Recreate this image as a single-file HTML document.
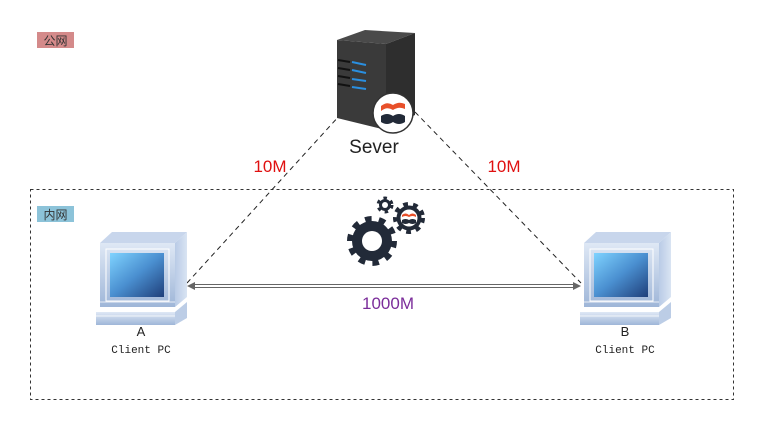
<!DOCTYPE html>
<html><head><meta charset="utf-8"><style>
html,body{margin:0;padding:0;background:#fff;}
svg{display:block;}
text{font-family:"Liberation Sans","Noto Sans CJK SC",sans-serif;}
</style></head><body>
<svg width="762" height="421" viewBox="0 0 762 421" xmlns="http://www.w3.org/2000/svg">
<defs>
  <linearGradient id="scr" x1="0" y1="0" x2="1" y2="1">
    <stop offset="0" stop-color="#7fd3ff"/><stop offset="0.5" stop-color="#4a8fd0"/><stop offset="1" stop-color="#1f3f7a"/>
  </linearGradient>
  <linearGradient id="case" x1="0" y1="0" x2="0" y2="1">
    <stop offset="0" stop-color="#dfe8f5"/><stop offset="1" stop-color="#9fb6d8"/>
  </linearGradient>
  <linearGradient id="side" x1="0" y1="0" x2="1" y2="0">
    <stop offset="0" stop-color="#b9cbe6"/><stop offset="1" stop-color="#d9e4f3"/>
  </linearGradient>
  <g id="pc">
    <polygon points="100,243 112,232 187,232 175,243" fill="#c8d6ec"/>
    <polygon points="175,243 187,232 187,297 175,307" fill="url(#side)"/>
    <rect x="100" y="243" width="75" height="64" fill="url(#case)"/>
    <rect x="106" y="249" width="63" height="52" fill="none" stroke="#fff" stroke-width="1"/>
    <rect x="110" y="253" width="54" height="44" fill="url(#scr)"/>
    <line x1="100" y1="302" x2="175" y2="302" stroke="#fff" stroke-width="0.8"/>
    <polygon points="96,312 175,312 187,302 187,318 175,325 96,325" fill="#bccde6"/>
    <rect x="96" y="312" width="79" height="13" fill="url(#case)"/>
    <line x1="96" y1="316" x2="175" y2="316" stroke="#fff" stroke-width="0.8"/>
  </g>
</defs>

<rect x="30.5" y="189.5" width="703" height="210" fill="none" stroke="#333" stroke-width="1" stroke-dasharray="3,3"/>
<rect x="37" y="32" width="37" height="16" fill="#d48a8a"/>
<text x="55.5" y="45" font-size="12" text-anchor="middle" fill="#333">公网</text>
<rect x="37" y="206" width="37" height="16" fill="#8cc3d9"/>
<text x="55.5" y="219" font-size="12" text-anchor="middle" fill="#333">内网</text>

<line x1="187" y1="283" x2="340" y2="115" stroke="#222" stroke-width="1" stroke-dasharray="5,4"/>
<line x1="415" y1="112" x2="581" y2="283" stroke="#222" stroke-width="1" stroke-dasharray="5,4"/>
<line x1="192" y1="284.5" x2="576" y2="284.5" stroke="#666" stroke-width="1"/>
<line x1="192" y1="287.5" x2="576" y2="287.5" stroke="#666" stroke-width="1"/>
<polygon points="187,286 195,282 195,290" fill="#666"/>
<polygon points="581,286 573,282 573,290" fill="#666"/>

<text x="270" y="172" font-size="17" text-anchor="middle" fill="#e01010">10M</text>
<text x="504" y="172" font-size="17" text-anchor="middle" fill="#e01010">10M</text>
<text x="388" y="309" font-size="17" text-anchor="middle" fill="#7b2d9a">1000M</text>

<polygon points="337,40 365,30 415,33 386,44" fill="#4a4a4a"/>
<polygon points="386,44 415,33 415,115 386,130" fill="#2e2e2e"/>
<polygon points="337,40 386,44 386,130 337,118" fill="#3a3a3a"/>
<g stroke-width="2">
  <line x1="338" y1="60" x2="350" y2="62" stroke="#111"/><line x1="352" y1="62" x2="366" y2="65" stroke="#2a8fe0"/>
  <line x1="338" y1="68" x2="350" y2="70" stroke="#111"/><line x1="352" y1="70" x2="366" y2="73" stroke="#2a8fe0"/>
  <line x1="338" y1="76" x2="350" y2="78" stroke="#111"/><line x1="352" y1="79" x2="366" y2="81" stroke="#2a8fe0"/>
  <line x1="338" y1="84" x2="350" y2="86" stroke="#111"/><line x1="352" y1="87" x2="366" y2="89" stroke="#2a8fe0"/>
</g>
<circle cx="393" cy="113" r="20" fill="#fff" stroke="#333" stroke-width="1.5"/>
<path d="M381,106 q6,-5 12,-1 q6,-4 12,-1 l0,5 q-6,-3 -12,1 q-6,-4 -12,1z" fill="#e8502a"/>
<path d="M381,116 q6,-4 12,0 q6,-4 12,0 l0,6 q-6,4 -12,0 q-6,4 -12,0z" fill="#222a38"/>
<text x="374" y="153" font-size="19" text-anchor="middle" fill="#222">Sever</text>

<g fill="#222a38">
  <circle cx="372" cy="241" r="20"/>
  <circle cx="372" cy="241" r="22" fill="none" stroke="#222a38" stroke-width="6" stroke-dasharray="6.5,7.3"/>
  <circle cx="372" cy="241" r="10" fill="#fff"/>
  <circle cx="385" cy="205" r="6"/>
  <circle cx="385" cy="205" r="7" fill="none" stroke="#222a38" stroke-width="3" stroke-dasharray="3.5,4.3"/>
  <circle cx="385" cy="205" r="3" fill="#fff"/>
  <circle cx="409" cy="218" r="12.5"/>
  <circle cx="409" cy="218" r="14" fill="none" stroke="#222a38" stroke-width="4" stroke-dasharray="4.8,5.2"/>
  <circle cx="409" cy="218" r="8.5" fill="#fff"/>
  <path d="M402,215 q3.5,-3 7,0 q3.5,-3 7,0 l0,2 q-3.5,-2 -7,0 q-3.5,-2 -7,0z" fill="#e8502a"/>
  <path d="M402,220 q3.5,-2 7,0 q3.5,-2 7,0 l0,3 q-3.5,2 -7,0 q-3.5,2 -7,0z"/>
</g>

<use href="#pc"/>
<use href="#pc" transform="translate(484,0)"/>
<text x="141" y="336" font-size="13" text-anchor="middle" fill="#222">A</text>
<text x="141" y="353" font-size="11" text-anchor="middle" fill="#222" style="font-family:'Liberation Mono',monospace">Client PC</text>
<text x="625" y="336" font-size="13" text-anchor="middle" fill="#222">B</text>
<text x="625" y="353" font-size="11" text-anchor="middle" fill="#222" style="font-family:'Liberation Mono',monospace">Client PC</text>
</svg>
</body></html>
